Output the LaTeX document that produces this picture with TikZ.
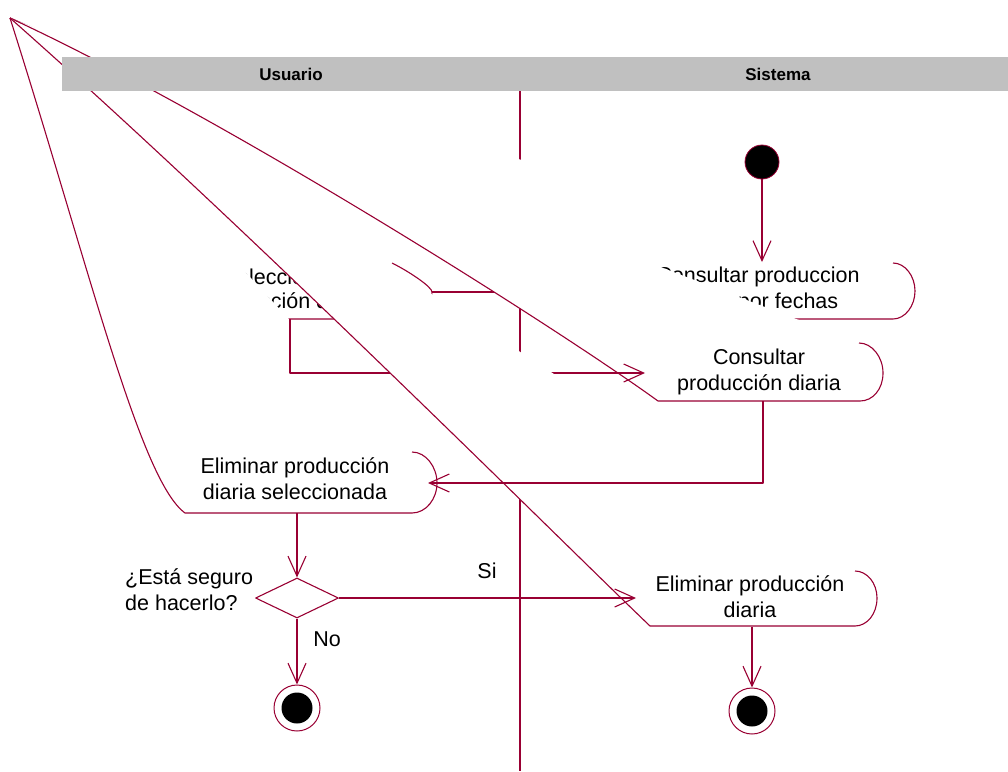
\documentclass[tikz,border=0pt]{standalone}
\usepackage{fontspec}
\setmainfont{Liberation Sans}
\usetikzlibrary{arrows.meta,shapes.geometric}
\definecolor{rosered}{RGB}{153,0,51}
\definecolor{lanegray}{RGB}{192,192,192}

\begin{document}
\begin{tikzpicture}[x=1pt, y=-1pt, line join=round,
  edge/.style={draw=rosered, line width=1.1pt},
  flow/.style={edge, -{Straight Barb[length=20pt,width=18pt]}},
  act/.style={font=\fontsize{21.5}{26}\selectfont, inner sep=0pt, align=center},
  lane/.style={font=\bfseries\fontsize{17}{20}\selectfont, inner sep=0pt}]

\useasboundingbox (0,0) rectangle (1008,771);

% --- lane divider ---
\draw[edge] (520,91) -- (520,771);

% --- common corner every activity was pulled to ---
\coordinate (O) at (10,18);

% --- Seleccionar (Usuario) ---
\fill[white] (O) -- (185,319) -- (410,319)
  .. controls (424,319) and (432,306) .. (432,292)
  .. controls (432,287) and (410,272) .. (392,263) -- cycle;
\draw[edge] (O) -- (185,319) -- (410,319)
  .. controls (424,319) and (432,306) .. (432,292)
  .. controls (432,287) and (410,272) .. (392,263);
\node[act] (selA) at (279,277) {Seleccionar};
\node[act] (selB) at (287,303) {producción diaria};
\coordinate (selE) at (432,292);
\coordinate (selS) at (290,319);

% --- arrow to "por fechas" ---
\coordinate (pfW) at (645,292);
\draw[flow] (selE) -- (pfW);

% --- Consultar produccion por fechas (Sistema) ---
\fill[white] (O) .. controls (250,120) and (560,290) .. (650,319) -- (893,319)
  .. controls (905,319) and (915,306) .. (915,291)
  .. controls (915,276) and (905,263) .. (893,263) -- cycle;
\draw[edge] (O) .. controls (250,120) and (560,290) .. (650,319) -- (893,319)
  .. controls (905,319) and (915,306) .. (915,291)
  .. controls (915,276) and (905,263) .. (893,263);
\node[act] (pfA) at (758,277) {Consultar produccion};
\node[act] (pfB) at (788,303) {por fechas};
\coordinate (pfN) at (762,262);

% --- Consultar produccion diaria (Sistema) ---
\fill[white] (O) .. controls (230,120) and (560,330) .. (658,401) -- (860,401)
  .. controls (873,401) and (883,389) .. (883,373)
  .. controls (883,357) and (872,343) .. (859,343) -- cycle;
\draw[edge] (O) .. controls (230,120) and (560,330) .. (658,401) -- (860,401)
  .. controls (873,401) and (883,389) .. (883,373)
  .. controls (883,357) and (872,343) .. (859,343);
\node[act] (cpd) at (759,372) {Consultar\\producción diaria};
\coordinate (cpdW) at (645,373);
\coordinate (cpdS) at (763,401);

% --- Eliminar produccion diaria seleccionada (Usuario) ---
\fill[white] (O) .. controls (90,270) and (140,480) .. (185,513) -- (412,513)
  .. controls (426,513) and (437,499) .. (437,483)
  .. controls (437,467) and (426,452) .. (412,452) -- cycle;
\draw[edge] (O) .. controls (90,270) and (140,480) .. (185,513) -- (412,513)
  .. controls (426,513) and (437,499) .. (437,483)
  .. controls (437,467) and (426,452) .. (412,452);
\node[act] (eli) at (295,479) {Eliminar producción\\diaria seleccionada};
\coordinate (eliE) at (428,483);
\coordinate (eliS) at (297,513);

% --- Seleccionar -> Consultar diaria ---
\draw[flow] (selS) |- (cpdW);

% --- Eliminar produccion diaria (Sistema) ---
\fill[white] (O) .. controls (250,230) and (560,540) .. (650,626) -- (855,626)
  .. controls (867,626) and (877,614) .. (877,598)
  .. controls (877,583) and (867,571) .. (855,571) -- cycle;
\draw[edge] (O) .. controls (250,230) and (560,540) .. (650,626) -- (855,626)
  .. controls (867,626) and (877,614) .. (877,598)
  .. controls (877,583) and (867,571) .. (855,571);
\node[act] (ed) at (750,597) {Eliminar producción\\diaria};
\coordinate (edW) at (636,598);
\coordinate (edS) at (752,627);

% --- start, decision, ends ---
\node[circle, fill=black, draw=rosered, line width=0.8pt, minimum size=34pt, inner sep=0pt] (start) at (762,162) {};
\node[diamond, draw=rosered, line width=1.1pt, fill=white, minimum width=83pt, minimum height=40pt, inner sep=0pt] (dec) at (297,598) {};
\node[circle, draw=rosered, line width=1pt, fill=white, minimum size=46pt, inner sep=0pt] (end1) at (297,708) {};
\fill[black] (end1.center) circle (15.5pt);
\node[circle, draw=rosered, line width=1pt, fill=white, minimum size=46pt, inner sep=0pt] (end2) at (752,711) {};
\fill[black] (end2.center) circle (15.5pt);

\draw[flow] (start) -- (pfN);
\draw[flow] (cpdS) |- (eliE);
\draw[flow] (eliS) -- (dec);
\draw[flow] (dec) -- (edW);
\draw[flow] (dec) -- (end1);
\draw[flow] (edS) -- (end2);

\node[act] (si) at (487,571) {Si};
\node[act] (no) at (327,639) {No};
\node[act, align=left, anchor=west] (ask) at (125,590) {¿Está seguro\\de hacerlo?};

% --- swimlane header ---
\fill[lanegray] (62,57) rectangle (1008,91);
\node[lane] (usuario) at (291,74) {Usuario};
\node[lane] (sistema) at (778,74) {Sistema};

\end{tikzpicture}
\end{document}
